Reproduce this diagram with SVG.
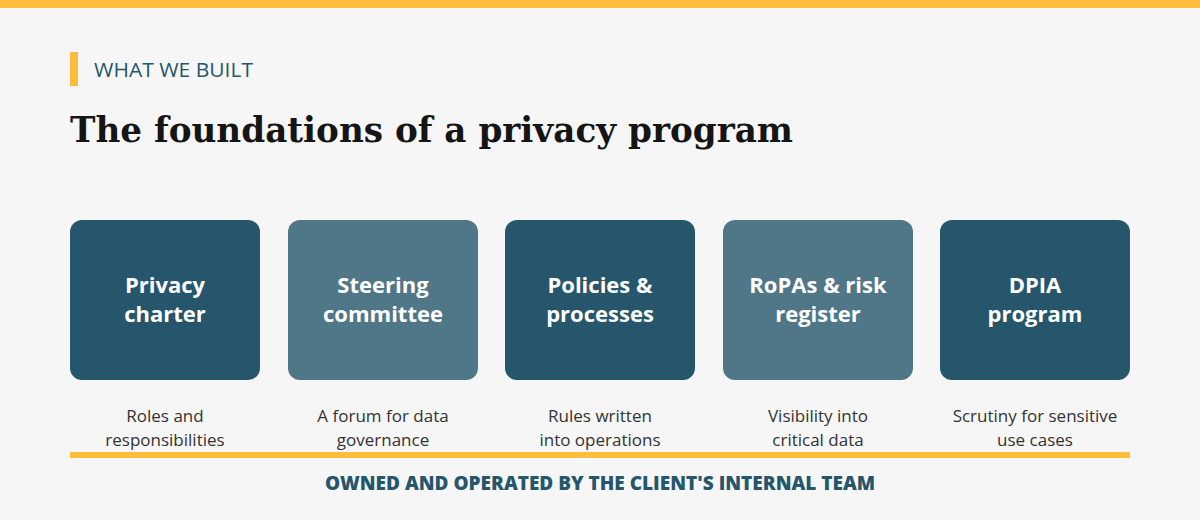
<svg xmlns="http://www.w3.org/2000/svg" width="1200" height="520" viewBox="0 0 1200 520">
<style>
.bx{rx:12px}
.d{fill:#26566b}.l{fill:#4f7787}
.t{font-family:"Open Sans","Noto Sans",sans-serif;font-weight:700;font-size:22px;fill:#fff;text-anchor:middle}
.s{font-family:"Open Sans","Noto Sans",sans-serif;font-size:17px;fill:#333;text-anchor:middle}
</style>
<rect width="1200" height="520" fill="#f6f6f6"/>
<rect width="1200" height="8" fill="#fdbd3a"/>
<rect x="70" y="52" width="8" height="34" fill="#fdbd3a"/>
<text x="94" y="77" font-family="Open Sans, sans-serif" font-weight="400" font-size="20" fill="#26566b" textLength="159" lengthAdjust="spacingAndGlyphs">WHAT WE BUILT</text>
<text x="70" y="142" font-family="DejaVu Serif, serif" font-weight="700" font-size="36" fill="#151515" textLength="723" lengthAdjust="spacingAndGlyphs">The foundations of a privacy program</text>
<g id="n1"><rect class="bx d" x="70" y="220" width="190" height="160"/><text class="t" x="165" y="293">Privacy</text><text class="t" x="165" y="322">charter</text><text class="s" x="165" y="422">Roles and</text><text class="s" x="165" y="446">responsibilities</text></g>
<g id="n2"><rect class="bx l" x="288" y="220" width="190" height="160"/><text class="t" x="383" y="293">Steering</text><text class="t" x="383" y="322">committee</text><text class="s" x="383" y="422">A forum for data</text><text class="s" x="383" y="446">governance</text></g>
<g id="n3"><rect class="bx d" x="505" y="220" width="190" height="160"/><text class="t" x="600" y="293">Policies &amp;</text><text class="t" x="600" y="322">processes</text><text class="s" x="600" y="422">Rules written</text><text class="s" x="600" y="446">into operations</text></g>
<g id="n4"><rect class="bx l" x="723" y="220" width="190" height="160"/><text class="t" x="818" y="293">RoPAs &amp; risk</text><text class="t" x="818" y="322">register</text><text class="s" x="818" y="422">Visibility into</text><text class="s" x="818" y="446">critical data</text></g>
<g id="n5"><rect class="bx d" x="940" y="220" width="190" height="160"/><text class="t" x="1035" y="293">DPIA</text><text class="t" x="1035" y="322">program</text><text class="s" x="1035" y="422">Scrutiny for sensitive</text><text class="s" x="1035" y="446">use cases</text></g>
<g id="connectors"><rect x="70" y="452" width="1060" height="6" fill="#fdbd3a"/></g>
<text x="600" y="490" text-anchor="middle" font-family="Open Sans, sans-serif" font-weight="800" font-size="19" fill="#26566b">OWNED AND OPERATED BY THE CLIENT'S INTERNAL TEAM</text>
</svg>
